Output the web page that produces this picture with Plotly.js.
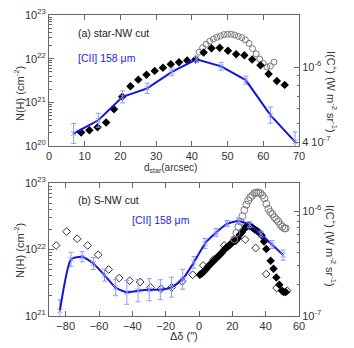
<!DOCTYPE html>
<html>
<head>
<meta charset="utf-8">
<script src="https://cdn.plot.ly/plotly-3.0.1.min.js"></script>
<style>html,body{margin:0;padding:0;background:#fff;}#chart{width:354px;height:348px;}</style>
</head>
<body>
<div id="chart"></div>
<script>
// ---------- Panel (a): star-NW cut ----------
const aDiamX = [9.0,11.3,13.6,16.0,18.2,20.5,22.8,25.0,27.3,29.6,31.9,34.1,36.4,38.7,41.0,43.3,45.5,47.8,50.1,52.4,54.7,56.9,59.2,61.5,63.8,66.0];
const aDiamN = [2.04e20,2.29e20,2.69e20,3.47e20,6.92e20,1.35e21,2.34e21,3.31e21,4.27e21,5.25e21,6.17e21,7.41e21,8.32e21,9.12e21,9.55e21,1.38e22,1.74e22,1.78e22,1.51e22,1.26e22,1.20e22,9.55e21,7.08e21,4.47e21,3.09e21,2.51e21];
const aCircX = [42,43,44,45,46,47,48,49,50,51,52,53,54,55,56,57,58,59,60,61,62,63];
const aCircN = [1.41e22,1.78e22,2.14e22,2.51e22,2.82e22,3.09e22,3.31e22,3.55e22,3.63e22,3.63e22,3.47e22,3.24e22,3.02e22,2.69e22,2.24e22,1.70e22,1.29e22,9.77e21,7.76e21,6.46e21,6.76e21,8.32e21];
const aCiiX = [6.9,13.8,20.6,27.5,34.4,41.3,48.2,55.1,62.0,68.9];
const aCiiI = [4.44e-7,5.22e-7,6.95e-7,7.71e-7,9.44e-7,1.10e-6,1.01e-6,8.53e-7,5.56e-7,4.01e-7];
const aCiiErrDex = [0.053,0.037,0.032,0.027,0.021,0.016,0.021,0.021,0.043,0.053];

// ---------- Panel (b): S-NW cut ----------
const bOpenX = [-85.7,-79.4,-73.1,-66.8,-60.5,-54.2,-47.9,-41.6,-35.3,-29.0,-22.7,-16.4,-10.1,-3.8,2.5,8.8,15.1,21.4,27.7,34.0,40.3,46.6,52.9];
const bOpenN = [1.15e22,1.86e22,1.45e22,1.15e22,8.32e21,5.01e21,3.72e21,3.39e21,3.24e21,2.69e21,2.57e21,2.69e21,3.31e21,4.17e21,5.75e21,7.08e21,1.15e22,1.41e22,1.41e22,1.05e22,4.27e21,2.63e21,2.40e21];
const bFillX = [0.5,1.7,2.9,4.1,5.3,6.5,7.7,8.9,10.1,11.3,12.5,13.7,14.9,16.1,17.3,18.5,19.7,20.9,22.1,23.3,24.5,25.7,26.9,28.1,29.3,30.6,32.0,33.4,34.8,36.2,37.6,39.0,40.4,43.0,44.7,46.4,48.2,49.8,50.8,52.0];
const bFillN = [4.17e21,4.37e21,4.68e21,5.01e21,5.50e21,5.89e21,6.31e21,6.76e21,7.24e21,7.76e21,8.32e21,8.91e21,9.77e21,1.05e22,1.10e22,1.17e22,1.26e22,1.32e22,1.35e22,1.48e22,1.66e22,1.82e22,2.00e22,2.19e22,2.29e22,2.24e22,2.14e22,2.00e22,1.91e22,1.78e22,1.62e22,1.32e22,1.02e22,6.76e21,5.13e21,3.80e21,2.95e21,2.40e21,2.29e21,2.29e21];
const bCircX = [21.2,22.4,23.6,24.8,26.0,27.2,28.4,29.6,30.8,32.0,33.2,34.4,35.6,36.8,38.0,39.2,40.4,41.6,42.8,44.0,45.2,46.4,47.6,48.8,50.0,51.2,52.0];
const bCircI = [5.37e-7,6.17e-7,7.08e-7,7.94e-7,8.91e-7,1.02e-6,1.15e-6,1.26e-6,1.35e-6,1.41e-6,1.48e-6,1.50e-6,1.50e-6,1.48e-6,1.41e-6,1.32e-6,1.17e-6,1.05e-6,9.77e-7,9.33e-7,8.71e-7,8.32e-7,7.94e-7,7.41e-7,7.08e-7,6.84e-7,6.84e-7];
const bCiiX = [-83.5,-76.8,-70.1,-63.4,-56.7,-50.0,-43.3,-36.6,-29.9,-23.2,-16.5,-9.8,-3.1,3.6,10.3,17.0,23.7,30.4,37.1,43.8,50.5];
const bCiiI = [1.12e-7,3.47e-7,3.67e-7,3.16e-7,2.45e-7,1.86e-7,1.68e-7,1.74e-7,1.78e-7,1.78e-7,1.88e-7,2.24e-7,3.24e-7,4.90e-7,6.24e-7,7.59e-7,8.04e-7,7.41e-7,6.03e-7,4.79e-7,3.80e-7];
const bCiiErrDex = [0.105,0.067,0.048,0.057,0.057,0.076,0.114,0.105,0.105,0.095,0.095,0.095,0.057,0.048,0.038,0.029,0.029,0.029,0.029,0.038,0.048];

// tick labels
const leftTickVals = [1e20,1e21,1e22,1e23];
const leftTickText = ['10<sup>20</sup>','10<sup>21</sup>','10<sup>22</sup>','10<sup>23</sup>'];
const aRightTickVals = [4e-7,1e-6];
const aRightTickText = ['4 10<sup>-7</sup>','10<sup>-6</sup>'];
const bRightTickVals = [1e-7,1e-6];
const bRightTickText = ['10<sup>-7</sup>','10<sup>-6</sup>'];

// ---------- helpers ----------
const errPlus = (v,e) => v.map((y,i)=>y*(Math.pow(10,e[i])-1));
const errMinus = (v,e) => v.map((y,i)=>y*(1-Math.pow(10,-e[i])));
function minorDecades(lo, hi){ const out=[]; for(let d=lo; d<hi; d++){ for(let m=2;m<=9;m++) out.push(m*Math.pow(10,d)); } return out; }

const BLUE = '#1414e0';
const EBLUE = '#8c9cf2';
const FONT = 'Liberation Sans, Arial, Helvetica, sans-serif';

const traces = [
  // panel a
  {x:aCircX, y:aCircN, xaxis:'x', yaxis:'y', mode:'markers', type:'scatter',
   marker:{symbol:'circle-open', size:6, color:'#7a7a7a', line:{width:1, color:'#7a7a7a'}}},
  {x:aDiamX, y:aDiamN, xaxis:'x', yaxis:'y', mode:'markers', type:'scatter',
   marker:{symbol:'diamond', size:6.5, color:'#000'}},
  {x:aCiiX, y:aCiiI, xaxis:'x', yaxis:'y2', mode:'lines+markers', type:'scatter',
   line:{color:BLUE, width:2},
   marker:{symbol:'x-thin-open', size:5, color:EBLUE, line:{width:1, color:EBLUE}},
   error_y:{type:'data', symmetric:false, array:errPlus(aCiiI,aCiiErrDex), arrayminus:errMinus(aCiiI,aCiiErrDex), color:EBLUE, thickness:1, width:2.5}},
  // panel b
  {x:bCircX, y:bCircI, xaxis:'x2', yaxis:'y4', mode:'markers', type:'scatter',
   marker:{symbol:'circle-open', size:7, color:'#7a7a7a', line:{width:1, color:'#7a7a7a'}}},
  {x:bOpenX, y:bOpenN, xaxis:'x2', yaxis:'y3', mode:'markers', type:'scatter',
   marker:{symbol:'diamond-open', size:6, color:'#333', line:{width:1, color:'#333'}}},
  {x:bFillX, y:bFillN, xaxis:'x2', yaxis:'y3', mode:'markers', type:'scatter',
   marker:{symbol:'diamond', size:6.5, color:'#000'}},
  {x:bCiiX, y:bCiiI, xaxis:'x2', yaxis:'y4', mode:'lines+markers', type:'scatter',
   line:{color:BLUE, width:2, shape:'spline', smoothing:0.5},
   marker:{symbol:'x-thin-open', size:5, color:EBLUE, line:{width:1, color:EBLUE}},
   error_y:{type:'data', symmetric:false, array:errPlus(bCiiI,bCiiErrDex), arrayminus:errMinus(bCiiI,bCiiErrDex), color:EBLUE, thickness:1, width:2.5}}
];

const axCommon = {showgrid:false, zeroline:false, showline:true, linecolor:'#666', linewidth:1,
  ticks:'inside', ticklen:5, tickcolor:'#666', tickfont:{family:FONT, size:11, color:'#333'}};

const layout = {
  width:354, height:348, showlegend:false,
  paper_bgcolor:'#fff', plot_bgcolor:'#fff',
  margin:{l:49, r:55, t:15, b:32},
  font:{family:FONT, color:'#333'},
  xaxis:Object.assign({}, axCommon, {domain:[0,1], anchor:'y', range:[0,70], tickmode:'linear', tick0:0, dtick:10, mirror:'ticks'}),
  yaxis:Object.assign({}, axCommon, {domain:[0.5648,1], anchor:'x', type:'log', range:[20,23],
    tickmode:'array', tickvals:leftTickVals, ticktext:leftTickText,
    minor:{tickmode:'array', tickvals:minorDecades(20,23), ticks:'inside', ticklen:2.5, tickcolor:'#666'}}),
  yaxis2:Object.assign({}, axCommon, {overlaying:'y', side:'right', anchor:'x', type:'log', range:[-6.419,-5.723],
    tickmode:'array', tickvals:aRightTickVals, ticktext:aRightTickText,
    minor:{tickmode:'array', tickvals:[5e-7,6e-7,7e-7,8e-7,9e-7], ticks:'inside', ticklen:2.5, tickcolor:'#666'}}),
  xaxis2:Object.assign({}, axCommon, {domain:[0,1], anchor:'y3', range:[-90,60], tickmode:'linear', tick0:-80, dtick:20, mirror:'ticks'}),
  yaxis3:Object.assign({}, axCommon, {domain:[0,0.4419], anchor:'x2', type:'log', range:[21,23],
    tickmode:'array', tickvals:leftTickVals, ticktext:leftTickText,
    minor:{tickmode:'array', tickvals:minorDecades(21,23), ticks:'inside', ticklen:2.5, tickcolor:'#666'}}),
  yaxis4:Object.assign({}, axCommon, {overlaying:'y3', side:'right', anchor:'x2', type:'log', range:[-7,-5.733],
    tickmode:'array', tickvals:bRightTickVals, ticktext:bRightTickText,
    minor:{tickmode:'array', tickvals:minorDecades(-7,-6), ticks:'inside', ticklen:2.5, tickcolor:'#666'}}),
  annotations:[
    {text:'(a) star-NW cut', xref:'paper', yref:'paper', x:(76-49)/250, y:(348-32-33)/301, xanchor:'left', yanchor:'middle', showarrow:false, font:{family:FONT, size:10.5, color:'#222'}},
    {text:'[CII] 158 μm', xref:'paper', yref:'paper', x:(76-49)/250, y:(348-32-58)/301, xanchor:'left', yanchor:'middle', showarrow:false, font:{family:FONT, size:10.5, color:'#2323ee'}},
    {text:'(b) S-NW cut', xref:'paper', yref:'paper', x:(76-49)/250, y:(348-32-200)/301, xanchor:'left', yanchor:'middle', showarrow:false, font:{family:FONT, size:10.5, color:'#222'}},
    {text:'[CII] 158 μm', xref:'paper', yref:'paper', x:(130-49)/250, y:(348-32-220)/301, xanchor:'left', yanchor:'middle', showarrow:false, font:{family:FONT, size:10.5, color:'#2323ee'}},
    // axis titles
    {text:'N(H) (cm<sup>-2</sup>)', xref:'paper', yref:'paper', x:(19-49)/250, y:(348-32-94)/301, textangle:-90, xanchor:'center', yanchor:'middle', showarrow:false, font:{family:FONT, size:11, color:'#333'}},
    {text:'N(H) (cm<sup>-2</sup>)', xref:'paper', yref:'paper', x:(19-49)/250, y:(348-32-251)/301, textangle:-90, xanchor:'center', yanchor:'middle', showarrow:false, font:{family:FONT, size:11, color:'#333'}},
    {text:'I(C<sup>+</sup>) (W m<sup>-2</sup> sr<sup>-1</sup>)', xref:'paper', yref:'paper', x:(332-49)/250, y:(348-32-92)/301, textangle:90, xanchor:'center', yanchor:'middle', showarrow:false, font:{family:FONT, size:11, color:'#333'}},
    {text:'I(C<sup>+</sup>) (W m<sup>-2</sup> sr<sup>-1</sup>)', xref:'paper', yref:'paper', x:(331-49)/250, y:(348-32-246)/301, textangle:90, xanchor:'center', yanchor:'middle', showarrow:false, font:{family:FONT, size:11, color:'#333'}},
    {text:'d<sub>star</sub>(arcsec)', xref:'paper', yref:'paper', x:(170-49)/250, y:(348-32-168)/301, xanchor:'center', yanchor:'middle', showarrow:false, font:{family:FONT, size:10, color:'#333'}},
    {text:'Δδ (")', xref:'paper', yref:'paper', x:(184-49)/250, y:(348-32-336)/301, xanchor:'center', yanchor:'middle', showarrow:false, font:{family:FONT, size:11, color:'#333'}}
  ]
};

Plotly.newPlot('chart', traces, layout, {staticPlot:true, displayModeBar:false});
</script>
</body>
</html>
